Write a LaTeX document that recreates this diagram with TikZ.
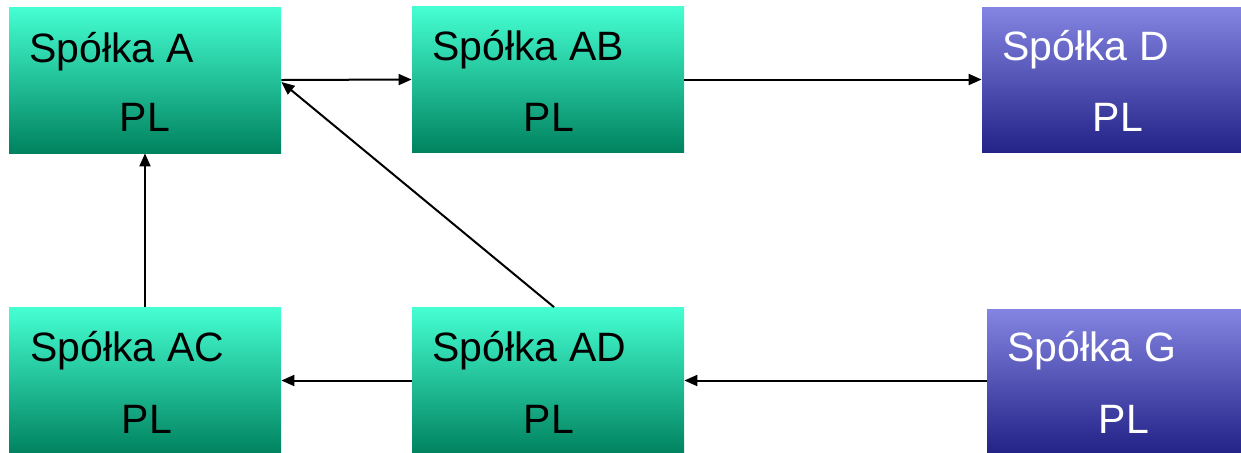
\documentclass[tikz,border=0pt]{standalone}
\usepackage{fontspec}
\setmainfont{Liberation Sans}
\usetikzlibrary{arrows.meta,positioning,calc}
\definecolor{greentop}{HTML}{45FFD2}
\definecolor{greenmid}{HTML}{00CC99}
\definecolor{greenbot}{HTML}{00825F}
\definecolor{bluetop}{HTML}{8484E2}
\definecolor{bluemid}{HTML}{3535C8}
\definecolor{bluebot}{HTML}{232388}
\tikzset{
   greenbox/.style={minimum width=136pt, minimum height=73pt, inner sep=0pt,
                    top color=greentop, middle color=greenmid, bottom color=greenbot},
   bluebox/.style={minimum height=72.5pt, inner sep=0pt,
                   top color=bluetop, middle color=bluemid, bottom color=bluebot},
   boxtext/.style={inner sep=0pt, font=\fontsize{20.5}{24}\selectfont},
   link/.style={line width=1pt, -{Triangle[length=6.5pt,width=5.5pt]}}
}

\begin{document}
\begin{tikzpicture}[x=0.5pt,y=-0.5pt]
  \useasboundingbox (0,0) rectangle (1241,452);

  % the boxes
  \node[greenbox] (A)  at (145,80) {};
  \node[greenbox] (AB) at (548,79.5) {};
  \node[bluebox, minimum width=129.5pt] (D) at (1111.5,79.5) {};
  \node[greenbox] (AC) at (145,380.5) {};
  \node[greenbox] (AD) at (548,380.5) {};
  \node[bluebox, minimum width=127pt, minimum height=71.5pt] (G) at (1114,380.5) {};

  % names
  \node[boxtext, anchor=base west] (nameA)  at (29,62)    {Spółka A};
  \node[boxtext, anchor=base west] (nameAB) at (432,60)   {Spółka AB};
  \node[boxtext, anchor=base west, white] (nameD) at (1002,60) {Spółka D};
  \node[boxtext, anchor=base west] (nameAC) at (30,361)   {Spółka AC};
  \node[boxtext, anchor=base west] (nameAD) at (432,361)  {Spółka AD};
  \node[boxtext, anchor=base west, white] (nameG) at (1007,361) {Spółka G};

  \node[boxtext, anchor=base] (plA)  at (145,131)  {PL};
  \node[boxtext, anchor=base] (plAB) at (549,131)  {PL};
  \node[boxtext, anchor=base, white] (plD) at (1118,131) {PL};
  \node[boxtext, anchor=base] (plAC) at (147,433)  {PL};
  \node[boxtext, anchor=base] (plAD) at (549,433)  {PL};
  \node[boxtext, anchor=base, white] (plG) at (1124,433) {PL};

  % links
  \draw[link] (A.east) -- (AB.west);
  \draw[link] (AB.east) -- (D.west);
  \draw[link] ($(AD.north)+(6,0)$) -- ($(A.east)+(0,2)$);
  \draw[link] (AC.north) -- (A.south);
  \draw[link] (AD.west) -- (AC.east);
  \draw[link] (G.west) -- (AD.east);
\end{tikzpicture}
\end{document}
